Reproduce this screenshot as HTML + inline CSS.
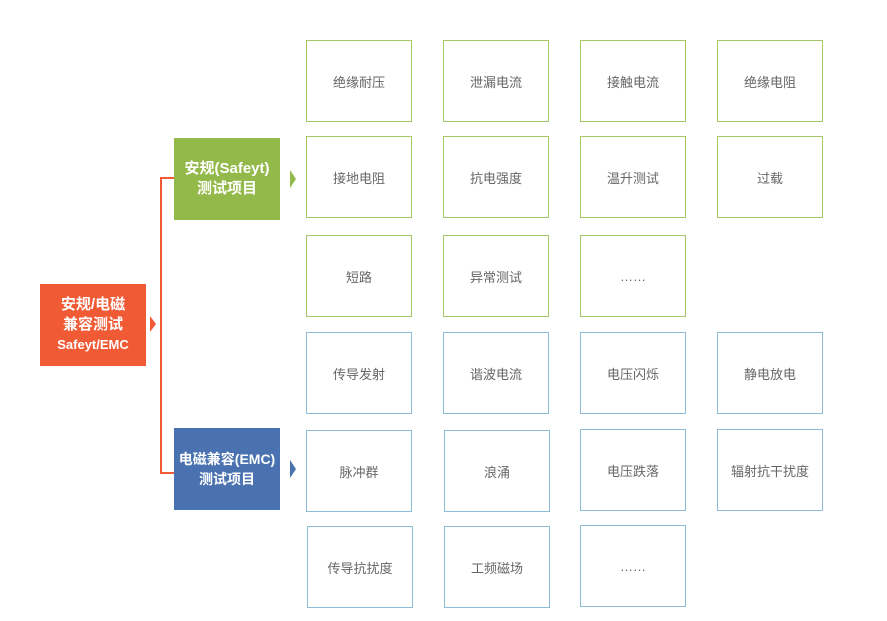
<!DOCTYPE html>
<html><head><meta charset="utf-8"><style>
body{margin:0;width:887px;height:621px;background:#fff;position:relative;overflow:hidden;font-family:"Liberation Sans","Noto Sans CJK SC",sans-serif}
.b{position:absolute;width:104px;height:80px;border:1px solid #a5c765;display:flex;align-items:center;justify-content:center;font-size:13px;color:#666;background:#fff}
.e{border-color:#8dbcd6}
.h{position:absolute;color:#fff;font-weight:bold;display:flex;align-items:center;justify-content:center;text-align:center;line-height:20px}
.t{position:absolute;width:0;height:0;border-top:8px solid transparent;border-bottom:8px solid transparent}
</style></head><body>
<div class="h" style="left:40px;top:284px;width:106px;height:82px;background:#f05a35;font-size:15px;line-height:20px;flex-direction:column"><div>安规/电磁<br>兼容测试</div><div style="font-size:13px">Safeyt/EMC</div></div>
<div class="t" style="left:150px;top:316px;border-left:6px solid #f05a35"></div>
<div style="position:absolute;left:160px;top:177px;width:1.5px;height:296px;background:#f05a35"></div>
<div style="position:absolute;left:160px;top:177px;width:14px;height:1.5px;background:#f05a35"></div>
<div style="position:absolute;left:160px;top:472px;width:14px;height:1.5px;background:#f05a35"></div>
<div class="h" style="left:174px;top:138px;width:106px;height:82px;background:#94b94b;font-size:15px">安规(Safeyt)<br>测试项目</div>
<div class="t" style="left:290px;top:170px;border-left:6px solid #94b94b;border-top-width:9px;border-bottom-width:9px"></div>
<div class="h" style="left:174px;top:428px;width:106px;height:82px;background:#4a72b0;font-size:14px">电磁兼容(EMC)<br>测试项目</div>
<div class="t" style="left:290px;top:460px;border-left:6px solid #4a72b0;border-top-width:9px;border-bottom-width:9px"></div>

<div class="b" style="left:306px;top:40px">绝缘耐压</div>
<div class="b" style="left:443px;top:40px">泄漏电流</div>
<div class="b" style="left:580px;top:40px">接触电流</div>
<div class="b" style="left:717px;top:40px">绝缘电阻</div>
<div class="b" style="left:306px;top:136px">接地电阻</div>
<div class="b" style="left:443px;top:136px">抗电强度</div>
<div class="b" style="left:580px;top:136px">温升测试</div>
<div class="b" style="left:717px;top:136px">过载</div>
<div class="b" style="left:306px;top:235px">短路</div>
<div class="b" style="left:443px;top:235px">异常测试</div>
<div class="b" style="left:580px;top:235px">……</div>

<div class="b e" style="left:306px;top:332px">传导发射</div>
<div class="b e" style="left:443px;top:332px">谐波电流</div>
<div class="b e" style="left:580px;top:332px">电压闪烁</div>
<div class="b e" style="left:717px;top:332px">静电放电</div>
<div class="b e" style="left:306px;top:430px">脉冲群</div>
<div class="b e" style="left:444px;top:430px">浪涌</div>
<div class="b e" style="left:580px;top:429px">电压跌落</div>
<div class="b e" style="left:717px;top:429px">辐射抗干扰度</div>
<div class="b e" style="left:307px;top:526px">传导抗扰度</div>
<div class="b e" style="left:444px;top:526px">工频磁场</div>
<div class="b e" style="left:580px;top:525px">……</div>
</body></html>
